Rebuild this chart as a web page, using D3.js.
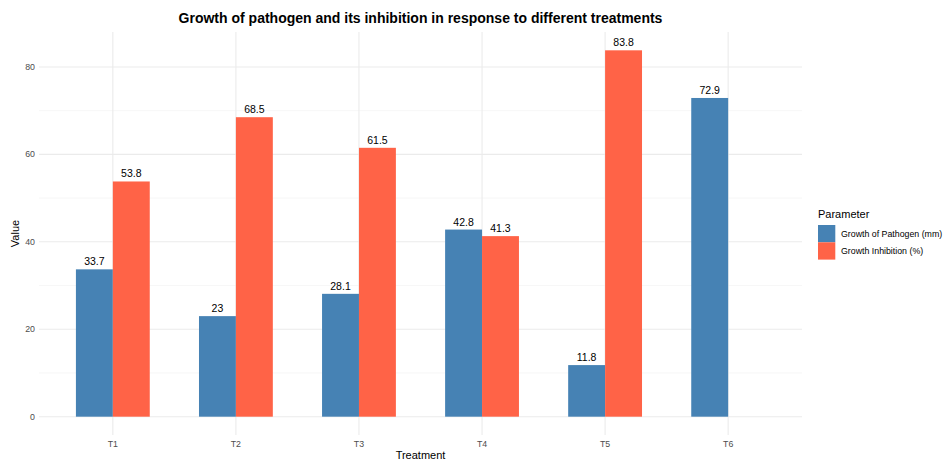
<!DOCTYPE html>
<html>
<head>
<meta charset="utf-8">
<script src="https://cdn.jsdelivr.net/npm/d3@7"></script>
<style>
  body { margin: 0; background: #fff; }
  text { font-family: "Liberation Sans", Arial, sans-serif; }
</style>
</head>
<body>
<div id="vis"></div>
<script>
// data
var treatments = ['T1', 'T2', 'T3', 'T4', 'T5', 'T6'];
var parameters = ['Growth of Pathogen (mm)', 'Growth Inhibition (%)'];
var pathogen = [33.7, 23, 28.1, 42.8, 11.8, 72.9];
var inhibition = [53.8, 68.5, 61.5, 41.3, 83.8, null];
var yTicks = [0, 20, 40, 60, 80];
var minorTicks = [10, 30, 50, 70];
var colors = ['#4682B4', '#FF6347'];

var width = 945;
var height = 462;
var margin = { top: 32, right: 143, bottom: 27, left: 39 };

var svg = d3.select('#vis')
  .append('svg')
  .attr('width', width)
  .attr('height', height);

// build rows, skip missing values
var rows = [];
treatments.forEach(function(t, i) {
  [pathogen[i], inhibition[i]].forEach(function(v, j) {
    if (v != null) rows.push({ treatment: t, param: parameters[j], value: v, idx: j });
  });
});

var maxVal = d3.max(rows, function(d) { return d.value; });
var pad = maxVal * 0.05;

var plotLeft = margin.left, plotRight = width - margin.right;

// discrete axis like ggplot: 0.6 expansion on each side, dodge width 0.6
var x = d3.scalePoint()
  .domain(treatments)
  .range([plotLeft, plotRight])
  .padding(0.6);
var barW = x.step() * 0.3;

var y = d3.scaleLinear()
  .domain([-pad, maxVal + pad])
  .range([height - margin.bottom, margin.top]);

// minor gridlines
svg.selectAll('.minor')
  .data(minorTicks)
  .enter().append('line')
  .attr('x1', plotLeft).attr('x2', plotRight)
  .attr('y1', function(d) { return y(d); })
  .attr('y2', function(d) { return y(d); })
  .attr('stroke', '#f2f2f2')
  .attr('stroke-width', 0.6);

// major gridlines
svg.selectAll('.major')
  .data(yTicks)
  .enter().append('line')
  .attr('x1', plotLeft).attr('x2', plotRight)
  .attr('y1', function(d) { return y(d); })
  .attr('y2', function(d) { return y(d); })
  .attr('stroke', '#ebebeb')
  .attr('stroke-width', 1.1);

svg.selectAll('.vgrid')
  .data(treatments)
  .enter().append('line')
  .attr('x1', function(d) { return x(d); })
  .attr('x2', function(d) { return x(d); })
  .attr('y1', margin.top)
  .attr('y2', height - margin.bottom)
  .attr('stroke', '#ebebeb')
  .attr('stroke-width', 1.1);

// bars (dodge: missing second bar leaves first in place)
svg.selectAll('.bar')
  .data(rows)
  .enter().append('rect')
  .attr('x', function(d) { return x(d.treatment) - barW + d.idx * barW; })
  .attr('y', function(d) { return y(d.value); })
  .attr('width', barW)
  .attr('height', function(d) { return y(0) - y(d.value); })
  .attr('fill', function(d) { return colors[d.idx]; });

// value labels
svg.selectAll('.lbl')
  .data(rows)
  .enter().append('text')
  .attr('x', function(d) { return x(d.treatment) - barW / 2 + d.idx * barW; })
  .attr('y', function(d) { return y(d.value) - 4; })
  .attr('text-anchor', 'middle')
  .attr('font-size', 10.5)
  .attr('fill', '#000')
  .text(function(d) { return d.value; });

// y tick labels
svg.selectAll('.ytick')
  .data(yTicks)
  .enter().append('text')
  .attr('x', plotLeft - 4)
  .attr('y', function(d) { return y(d); })
  .attr('dy', '0.35em')
  .attr('text-anchor', 'end')
  .attr('font-size', 8.8)
  .attr('fill', '#4d4d4d')
  .text(function(d) { return d; });

// x tick labels
svg.selectAll('.xtick')
  .data(treatments)
  .enter().append('text')
  .attr('x', function(d) { return x(d); })
  .attr('y', height - margin.bottom + 12)
  .attr('text-anchor', 'middle')
  .attr('font-size', 8.8)
  .attr('fill', '#4d4d4d')
  .text(function(d) { return d; });

// axis titles
svg.append('text')
  .attr('x', (plotLeft + plotRight) / 2)
  .attr('y', height - 3)
  .attr('text-anchor', 'middle')
  .attr('font-size', 11)
  .text('Treatment');

svg.append('text')
  .attr('transform', 'translate(19,' + ((margin.top + height - margin.bottom) / 2) + ') rotate(-90)')
  .attr('text-anchor', 'middle')
  .attr('font-size', 11)
  .text('Value');

// title
svg.append('text')
  .attr('x', (plotLeft + plotRight) / 2)
  .attr('y', 23)
  .attr('text-anchor', 'middle')
  .attr('font-size', 14)
  .attr('font-weight', 'bold')
  .text('Growth of pathogen and its inhibition in response to different treatments');

// legend
var lg = svg.append('g').attr('transform', 'translate(818,208)');
lg.append('text')
  .attr('x', 0).attr('y', 10)
  .attr('font-size', 11)
  .text('Parameter');
parameters.forEach(function(p, i) {
  lg.append('rect')
    .attr('x', 0).attr('y', 17 + i * 17.3)
    .attr('width', 17.3).attr('height', 17.3)
    .attr('fill', colors[i]);
  lg.append('text')
    .attr('x', 23).attr('y', 17 + i * 17.3 + 8.65)
    .attr('dy', '0.35em')
    .attr('font-size', 8.8)
    .text(p);
});
</script>
</body>
</html>
